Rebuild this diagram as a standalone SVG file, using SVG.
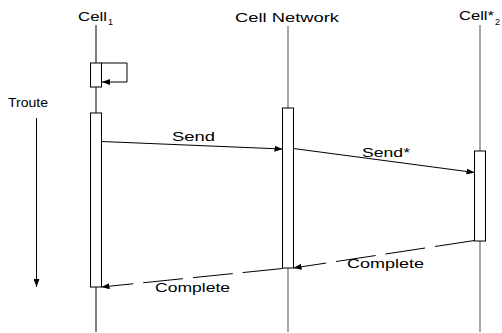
<svg xmlns="http://www.w3.org/2000/svg" width="502" height="333" viewBox="0 0 502 333">
<style>
text{font-family:"Liberation Sans",Arial,sans-serif;font-size:13px;fill:#000}
.sub{font-size:9px}
.life{stroke:#000;stroke-width:1}
.lifeg{stroke:#777;stroke-width:1.3}
.act{fill:#fff;stroke:#000;stroke-width:1}
.msg{fill:none;stroke:#000;stroke-width:1}
.dash{stroke-dasharray:40 10}
</style>
<defs>
<marker id="ah" viewBox="0 0 8 6" refX="8" refY="3" markerWidth="8" markerHeight="6" markerUnits="userSpaceOnUse" orient="auto">
<path d="M0,0 L8,3 L0,6 z" fill="#000"/>
</marker>
</defs>
<rect width="502" height="333" fill="#fff"/>
<g id="troute">
<text x="8" y="107" textLength="40" lengthAdjust="spacingAndGlyphs">Troute</text>
<line x1="36.5" y1="118" x2="36.5" y2="287" class="msg" marker-end="url(#ah)"/>
</g>
<g id="cell1">
<text x="78" y="21" textLength="29" lengthAdjust="spacingAndGlyphs">Cell</text><text x="108" y="25" class="sub">1</text>
<line x1="96" y1="25" x2="96" y2="332" class="life"/>
<rect x="90.5" y="63" width="11" height="24" class="act"/>
<rect x="90.5" y="113" width="11" height="174" class="act"/>
</g>
<g id="cellnetwork">
<text x="235" y="22" textLength="104" lengthAdjust="spacingAndGlyphs">Cell Network</text>
<line x1="288" y1="26" x2="288" y2="332" class="lifeg"/>
<rect x="282.5" y="108" width="11" height="160" class="act"/>
</g>
<g id="cell2">
<text x="459" y="20" textLength="35" lengthAdjust="spacingAndGlyphs">Cell*</text><text x="495" y="25" class="sub">2</text>
<line x1="480" y1="25" x2="480" y2="332" class="lifeg"/>
<rect x="474.5" y="151" width="11" height="90" class="act"/>
</g>
<g id="connectors">
<polyline points="101.5,63 127,63 127,82 102,82" class="msg" marker-end="url(#ah)"/>
<line x1="101.5" y1="141.5" x2="282.5" y2="149" class="msg" marker-end="url(#ah)"/>
<text x="172" y="141" textLength="43" lengthAdjust="spacingAndGlyphs">Send</text>
<line x1="293.5" y1="148.5" x2="474.5" y2="172.5" class="msg" marker-end="url(#ah)"/>
<text x="362" y="157" textLength="48" lengthAdjust="spacingAndGlyphs">Send*</text>
<line x1="474.5" y1="240.5" x2="293.5" y2="268" class="msg dash" marker-end="url(#ah)"/>
<text x="347" y="268" textLength="77" lengthAdjust="spacingAndGlyphs">Complete</text>
<line x1="282.5" y1="268.5" x2="101.5" y2="287" class="msg dash" marker-end="url(#ah)"/>
<text x="155" y="292" textLength="75" lengthAdjust="spacingAndGlyphs">Complete</text>
</g>
</svg>
